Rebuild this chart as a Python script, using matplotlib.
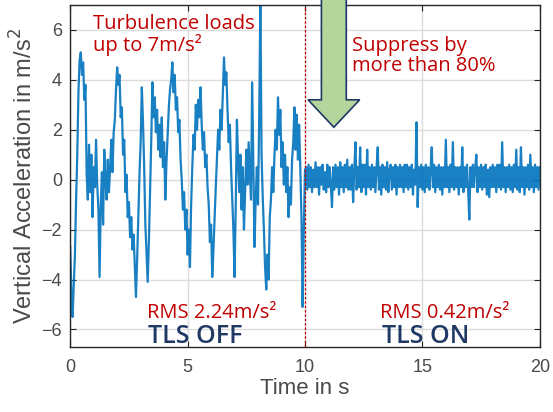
import numpy as np
import matplotlib.pyplot as plt
from matplotlib.patches import FancyArrow

plt.rcParams['font.family'] = ['Liberation Sans', 'DejaVu Sans']

# sample spacing of the recorded signal (s)
dt = 0.05

# TLS off, t = 0 .. 9.95 s
accel_off = [
    -2.7, -4.6, -5.5, -4.2, -3.0, -0.8, 1.0, 3.5, 4.8, 5.1, 4.2, 4.7, 3.2, 3.8, 0.2, -0.8, 1.4, -0.5, 1.0, -1.5,
    0.5, -0.3, 1.6, -0.2, -1.2, -3.9, -1.0, 0.3, -1.8, 1.2, 0.0, -0.8, 0.8, -0.5, 0.5, 1.6, 0.3, 1.9, 2.4, 3.6,
    4.5, 3.8, 4.2, 2.5, 2.9, 1.0, 1.6, -0.5, 0.2, -1.5, -0.9, -2.3, -1.5, -2.8, -2.2, -3.5, -4.7, -3.2, -1.5, 0.2,
    1.5, 3.7, 2.3, 0.5, -1.8, -3.0, -4.1, -2.5, -0.5, 1.5, 3.9, 2.5, 3.3, 1.9, 2.8, 1.2, 2.2, 0.9, 2.5, 0.5,
    1.5, -0.8, 0.7, 1.8, 2.9, 3.6, 4.0, 4.7, 3.5, 4.2, 2.8, 3.3, 1.9, 2.4, 0.8, 0.0, -1.2, -0.5, -2.0, -1.2,
    -3.0, -2.0, -3.5, -1.0, 0.5, 1.8, 1.2, 3.0, 2.0, 3.2, 2.5, 3.7, 2.2, 1.2, 1.9, 0.5, 1.0, -0.3, -1.0, -2.5,
    -1.8, -3.9, -2.8, -1.5, -0.3, 0.8, 2.0, 1.2, 2.8, 2.0, 3.5, 4.9, 3.8, 4.3, 2.8, 1.5, 2.2, 0.5, -0.8, -2.0,
    -3.9, -1.0, 2.4, 0.8, -0.5, 1.0, -1.2, 0.5, -2.0, -0.5, 1.2, -0.2, 1.5, 0.3, -0.8, 3.9, 0.5, -2.7, -0.8, 0.5,
    -1.0, 2.5, 7.3, 1.0, -0.7, -2.0, -3.5, -4.4, -3.0, -4.0, -1.5, -0.8, 0.5, -0.5, 1.0, 2.0, 1.2, 3.3, 1.8, 2.8,
    0.5, 1.5, -0.2, 1.0, -0.5, 0.5, -1.5, -0.3, -1.0, 0.8, 1.5, 2.9, 1.2, 2.6, 0.8, 2.2, 0.5, -1.5, -5.1, -2.0,
]

# TLS on, t = 10.0 .. 20.0 s
accel_on = [
    0.4,
    0.5, -0.4, 0.6, -0.3, 0.5, -0.5, 0.4, -0.3, 0.7, -0.3, 0.5, -0.6, 0.5, -0.2, 0.6, -0.4, 0.3, -0.5, 0.6, -0.3,
    0.5, -0.2, -1.1, 0.5, -0.4, 0.6, -0.3, 0.5, -0.6, 0.7, -0.3, 0.5, -0.5, 0.6, -0.3, 0.8, -0.4, 0.5, -0.4, 0.6,
    -0.9, 0.4, 1.5, -0.4, 0.5, -0.3, 1.3, -0.5, 0.6, -0.3, 0.6, -0.6, 1.2, -0.3, 0.5, -0.4, 0.6, -0.3, 0.5, -0.5,
    0.5, 1.3, -0.4, 0.5, -0.6, 0.6, -0.3, 0.5, -0.4, 0.7, -0.5, 0.4, 0.6, -0.4, 0.5, -0.3, 0.6, -0.6, 0.5, -0.3,
    0.6, -0.3, 0.5, -0.5, 0.6, -0.3, 0.6, -0.4, 0.5, -0.3, 0.6, -0.6, 0.4, -0.2, 2.3, -1.1, 0.5, -0.3, 0.6, -0.4,
    0.5, -0.5, 0.6, -0.3, 0.5, -0.4, 0.4, 1.3, -0.3, 0.6, -0.5, 0.5, -0.3, 0.6, -0.4, 0.5, -0.6, 0.5, -0.3, 1.6,
    -0.3, 0.5, -0.5, 0.6, -0.3, 1.5, -0.4, 0.5, -0.3, 0.5, -0.6, 0.5, -0.3, 1.3, -0.5, 0.5, -0.3, 0.6, -0.4, -1.6,
    0.5, -0.3, 0.6, -0.3, 0.5, 1.0, -0.5, 0.5, -0.3, 0.6, -0.4, 0.5, -0.3, 0.6, -0.6, 0.4, -0.7, 0.5, -0.3, 0.6,
    -0.3, 0.5, -0.5, 0.6, -0.3, 0.6, -0.4, 1.5, -0.3, 0.5, -0.5, 0.5, -0.3, 0.6, -0.4, 0.5, -0.5, 0.6, -0.3, 1.2,
    -0.4, 0.5, -0.5, 1.3, -0.3, 0.5, -0.6, 0.5, -0.3, 0.6, -0.4, 1.0, -0.3, 0.5, -0.5, 0.6, -0.3, 0.5, -0.4, 0.5,
]

switch_time = 10
rms_off = '2.24'
rms_on = '0.42'

accel = np.array(accel_off + accel_on)
t = np.arange(len(accel)) * dt

red = '#c00000'
navy = '#1f3864'
gray = '#4a4a4a'

fig = plt.figure(figsize=(5.53, 4.12), dpi=100)
ax = fig.add_axes([0.127, 0.158, 0.849, 0.830])

ax.plot(t, accel, color='#0072bd', lw=1.6, alpha=0.9)
ax.axvline(switch_time, color=red, lw=0.9, ls=(0, (2, 1.5)))

ax.set_xlim(0, 20)
ax.set_ylim(-6.7, 7)
ax.set_xticks([0, 5, 10, 15, 20])
ax.set_yticks([-6, -4, -2, 0, 2, 4, 6])
ax.grid(True, color='#dcdcdc', lw=1)
ax.set_axisbelow(True)
ax.tick_params(direction='in', top=True, right=True, length=4, colors='#262626',
               labelcolor=gray, labelsize=13)
ax.tick_params(axis='x', pad=9)
ax.tick_params(axis='y', pad=6)
for s in ax.spines.values():
    s.set_color('#262626')
    s.set_linewidth(1)

ax.set_xlabel('Time in s', fontsize=16, color=gray, labelpad=1)
ax.set_ylabel('Vertical Acceleration in m/s$^2$', fontsize=17, color=gray, labelpad=3)

# arrow
arr = FancyArrow(11.23, 7.3, 0, -5.2, width=1.06, head_width=2.2, head_length=1.1,
                 length_includes_head=True, facecolor='#b4d69c', edgecolor=navy, lw=1.2,
                 clip_on=False, zorder=5)
ax.add_patch(arr)

ax.text(0.95, 6.62, 'Turbulence loads\nup to 7m/s²', color=red, fontsize=14.5,
        family='Open Sans', ha='left', va='top', linespacing=1.0)
ax.text(12.0, 5.75, 'Suppress by\nmore than 80%', color=red, fontsize=14.5,
        family='Open Sans', ha='left', va='top', linespacing=1.0)
ax.text(3.28, -5.35, 'RMS ' + rms_off + 'm/s²', color=red, fontsize=14.5,
        family='Open Sans', ha='left', va='center')
ax.text(13.2, -5.35, 'RMS ' + rms_on + 'm/s²', color=red, fontsize=14.5,
        family='Open Sans', ha='left', va='center')
ax.text(3.3, -6.28, 'TLS OFF', color=navy, fontsize=18, weight='semibold',
        family='Open Sans', ha='left', va='center')
ax.text(13.3, -6.28, 'TLS ON', color=navy, fontsize=18, weight='semibold',
        family='Open Sans', ha='left', va='center')

plt.savefig('out.png', dpi=100)
